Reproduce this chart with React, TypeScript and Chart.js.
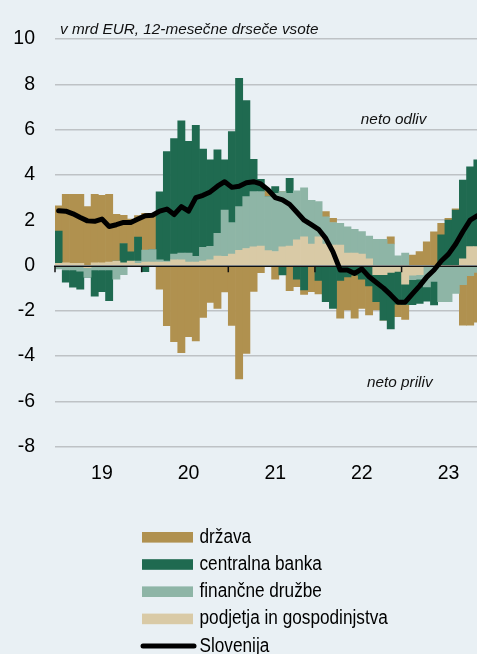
import React, { useEffect, useRef } from "react";
import { Chart, registerables } from "chart.js";

Chart.register(...registerables);

// ---- data (mrd EUR, 12-month rolling sums), monthly Jan 2019 .. Nov 2023 ----
const yearTickLabels = ["19", "20", "21", "22", "23"];
const monthLabels: string[] = [];
for (let y = 2019; y <= 2023; y++) {
  for (let m = 1; m <= 12; m++) {
    if (monthLabels.length < 59) monthLabels.push(`${m}/${y}`);
  }
}

const podjetja = [
  0.1, 0.12, 0.1, 0.1, -0.1, 0.12, 0.12, 0.15, 0.2, 0.12, 0.2, 0.1,
  0.15, 0.15, 0.15, 0.15, 0.25, 0.25, 0.15, 0.15, 0.2, 0.25, 0.42, 0.4,
  0.5, 0.67, 0.75, 0.82, 0.86, 0.66, 0.62, 0.82, 0.86, 1.13, 1.27, 0.95,
  1.27, 0.95, 0.9, 0.9, 0.55, 0.55, 0.5, 0.3, -0.4, -0.4, -0.3, -0.26,
  -0.82, -0.43, -0.4, -0.05, 0, 0, 0, 0, 0.3, 0.83, 0.83,
];

const financneDruzbe = [
  -0.15, -0.2, -0.2, -0.25, -0.42, -0.2, -0.2, -0.2, -0.6, -0.4, -0.05, 0.1,
  0.53, 0.55, 0.1, 0.05, 0.25, 0.3, 0.4, 0.25, 0.6, 0.6, 1.0, 2.05,
  1.39, 1.93, 2.29, 2.44, 2.4, 2.38, 2.57, 2.44, 2.33, 2.17, 2.16, 1.93,
  1.55, 1.2, 1.0, 0.96, 1.16, 1.05, 1.0, 1.0, 1.16, 1.16, 0.95, 0.43,
  0.55, -0.2, -0.2, -0.9, -0.7, -1.6, -1.6, -1.23, -0.85, -0.45, -0.3,
];

const centralnaBanka = [
  1.42, -0.54, -0.76, -0.8, 0, -1.15, -0.95, -1.35, 0, 0.85, 0.4, 1.05,
  -0.27, 0, 3.0, 4.83, 5.1, 5.84, 4.93, 5.79, 4.34, 3.81, 3.69, 2.21,
  4.02, 5.66, 4.24, 1.43, 0.54, 0, 0.29, -0.42, 0.66, -0.6, -1.08, 0,
  -0.66, -1.6, -1.89, -0.66, -0.5, -0.43, -0.6, -0.9, -1.2, -2.01, -2.5, -1.45,
  -0.9, -1.1, -1.07, -0.62, -1.04, 1.35, 2.0, 2.45, 3.47, 3.53, 3.83,
];

const drzava = [
  1.11, 3.02, 3.04, 3.04, 2.6, 3.02, 2.98, 2.99, 2.06, 1.25, 1.45, 0.95,
  1.62, 1.55, -1.04, -2.66, -3.36, -3.85, -3.14, -3.33, -2.29, -1.63, -1.89, -1.17,
  -2.64, -5.01, -3.88, -1.14, -0.32, 0.26, -0.6, 0, -1.11, -0.33, -0.2, -1.16,
  -0.6, 0.23, 0.18, -1.67, -1.46, -1.9, -1.29, -1.28, -0.36, 0, 0.32, -0.55,
  -0.66, 0.46, 0.61, 1.05, 1.49, 0.51, 0.08, 0.05, -1.78, -2.18, -2.2,
];

const slovenija = [
  2.42, 2.4, 2.28, 2.12, 1.97, 1.95, 2.05, 1.72, 1.8, 1.9, 1.9, 2.05,
  2.2, 2.22, 2.4, 2.49, 2.25, 2.6, 2.4, 3.0, 3.1, 3.25, 3.5, 3.7,
  3.45, 3.5, 3.65, 3.7, 3.6, 3.35, 3.0, 2.9, 2.7, 2.35, 2.0, 1.8,
  1.6, 1.2, 0.6, -0.2, -0.2, -0.35, -0.15, -0.5, -0.75, -1.0, -1.3, -1.62,
  -1.62, -1.25, -0.9, -0.5, -0.2, 0.2, 0.5, 0.95, 1.5, 2.0, 2.2,
];

const seriesNames = {
  drzava: "država",
  cb: "centralna banka",
  fin: "finančne družbe",
  pod: "podjetja in gospodinjstva",
  slo: "Slovenija",
};

const COLORS = {
  drzava: "#B0914F",
  cb: "#1F6A50",
  fin: "#8EB5A6",
  pod: "#D9CAA6",
  bg: "#E9F0F4",
  grid: "#BEC2C5",
};

const SANS = "'Liberation Sans', Arial, sans-serif";
const ITALIC = "italic 15.3px 'Liberation Sans', Arial, sans-serif";

export default function App() {
  const ref = useRef<HTMLCanvasElement>(null);

  useEffect(() => {
    const canvas = ref.current!;

    const overlay = {
      id: "overlay",
      beforeDatasetDraw(chart: any, args: any) {
        if (args.meta.type !== "line") return;
        const { ctx, chartArea, scales } = chart;
        const y0 = Math.round(scales.y.getPixelForValue(0)) + 0.25;
        ctx.save();
        ctx.strokeStyle = "#111";
        ctx.lineWidth = 1.5;
        ctx.beginPath();
        ctx.moveTo(chartArea.left - 1, y0);
        ctx.lineTo(chartArea.right, y0);
        ctx.stroke();
        const step = scales.x.getPixelForValue(1) - scales.x.getPixelForValue(0);
        for (let k = 0; k < monthLabels.length; k += 12) {
          const x = scales.x.getPixelForValue(k) - step / 2;
          ctx.beginPath();
          ctx.moveTo(x, y0);
          ctx.lineTo(x, y0 + 6);
          ctx.stroke();
        }
        ctx.restore();
      },
      afterDraw(chart: any) {
        const { ctx, scales } = chart;
        ctx.save();
        ctx.fillStyle = "#111";
        ctx.font = ITALIC;
        ctx.textAlign = "left";
        ctx.textBaseline = "alphabetic";
        ctx.fillText("v mrd EUR, 12-mesečne drseče vsote", 60, 33.5);
        ctx.fillText("neto odliv", scales.x.getPixelForValue(42) - 1, scales.y.getPixelForValue(6.25));
        ctx.fillText("neto priliv", scales.x.getPixelForValue(43) - 2, scales.y.getPixelForValue(-5.35));

        // legend
        const items = [
          { label: seriesNames.drzava, color: COLORS.drzava },
          { label: seriesNames.cb, color: COLORS.cb },
          { label: seriesNames.fin, color: COLORS.fin },
          { label: seriesNames.pod, color: COLORS.pod },
        ];
        ctx.font = `20px ${SANS}`;
        ctx.textBaseline = "middle";
        const rowH = 27.2;
        const y0 = 537.3;
        const drawText = (t: string, x: number, y: number) => {
          ctx.save();
          ctx.translate(x, y);
          ctx.scale(0.86, 1);
          ctx.fillStyle = "#000";
          ctx.fillText(t, 0, 0);
          ctx.restore();
        };
        items.forEach((it, k) => {
          const yc = y0 + k * rowH;
          ctx.fillStyle = it.color;
          ctx.fillRect(142, yc - 5.3, 51, 10.6);
          drawText(it.label, 199.5, yc);
        });
        const yl = y0 + 4 * rowH;
        ctx.strokeStyle = "#000";
        ctx.lineWidth = 5;
        ctx.lineCap = "round";
        ctx.beginPath();
        ctx.moveTo(143, yl);
        ctx.lineTo(194, yl);
        ctx.stroke();
        drawText(seriesNames.slo, 199.5, yl);
        ctx.restore();
      },
    };

    const barDs = (label: string, data: number[], color: string) => ({
      type: "bar" as const,
      label,
      data,
      backgroundColor: color,
      borderWidth: 0,
      barPercentage: 1,
      categoryPercentage: 1,
      stack: "s",
      order: 1,
    });

    const chart = new Chart(canvas, {
      type: "bar",
      data: {
        labels: monthLabels,
        datasets: [
          {
            type: "line",
            label: seriesNames.slo,
            data: slovenija,
            borderColor: "#000",
            borderWidth: 5,
            pointRadius: 0,
            tension: 0,
            borderJoinStyle: "round",
            borderCapStyle: "round",
            stack: "line",
            order: 0,
          } as any,
          barDs(seriesNames.pod, podjetja, COLORS.pod),
          barDs(seriesNames.fin, financneDruzbe, COLORS.fin),
          barDs(seriesNames.cb, centralnaBanka, COLORS.cb),
          barDs(seriesNames.drzava, drzava, COLORS.drzava),
        ],
      },
      options: {
        animation: false,
        responsive: false,
        maintainAspectRatio: false,
        layout: { autoPadding: false, padding: { top: 39, left: 0, right: 0, bottom: 157.3 } },
        plugins: { legend: { display: false }, tooltip: { enabled: false } },
        scales: {
          x: {
            stacked: true,
            grid: { display: false, drawTicks: false },
            border: { display: false },
            ticks: {
              autoSkip: false,
              maxRotation: 0,
              minRotation: 0,
              padding: 15,
              color: "#000",
              font: { family: SANS, size: 19.5 },
              callback: (_v: any, i: number) => (i % 12 === 6 ? yearTickLabels[Math.floor(i / 12)] : ""),
            },
            afterFit: (s: any) => {
              s.height = 50;
              s.paddingLeft = 0;
              s.paddingRight = 0;
            },
          },
          y: {
            stacked: true,
            min: -8,
            max: 10,
            ticks: {
              stepSize: 2,
              padding: 20,
              color: "#000",
              font: { family: SANS, size: 19.5 },
            },
            grid: {
              drawTicks: false,
              lineWidth: 1.5,
              color: (c: any) => (c.tick && c.tick.value === 0 ? "rgba(0,0,0,0)" : COLORS.grid),
            },
            border: { display: false },
            afterFit: (s: any) => {
              s.width = 55;
              s.paddingTop = 0;
              s.paddingBottom = 0;
            },
          },
        },
      } as any,
      plugins: [overlay],
    });

    return () => chart.destroy();
  }, []);

  return (
    <div
      style={{
        position: "fixed",
        left: 0,
        top: 0,
        width: 477,
        height: 654,
        overflow: "hidden",
        background: COLORS.bg,
      }}
    >
      <canvas ref={ref} width={481} height={654} style={{ display: "block", width: 481, height: 654 }} />
    </div>
  );
}
